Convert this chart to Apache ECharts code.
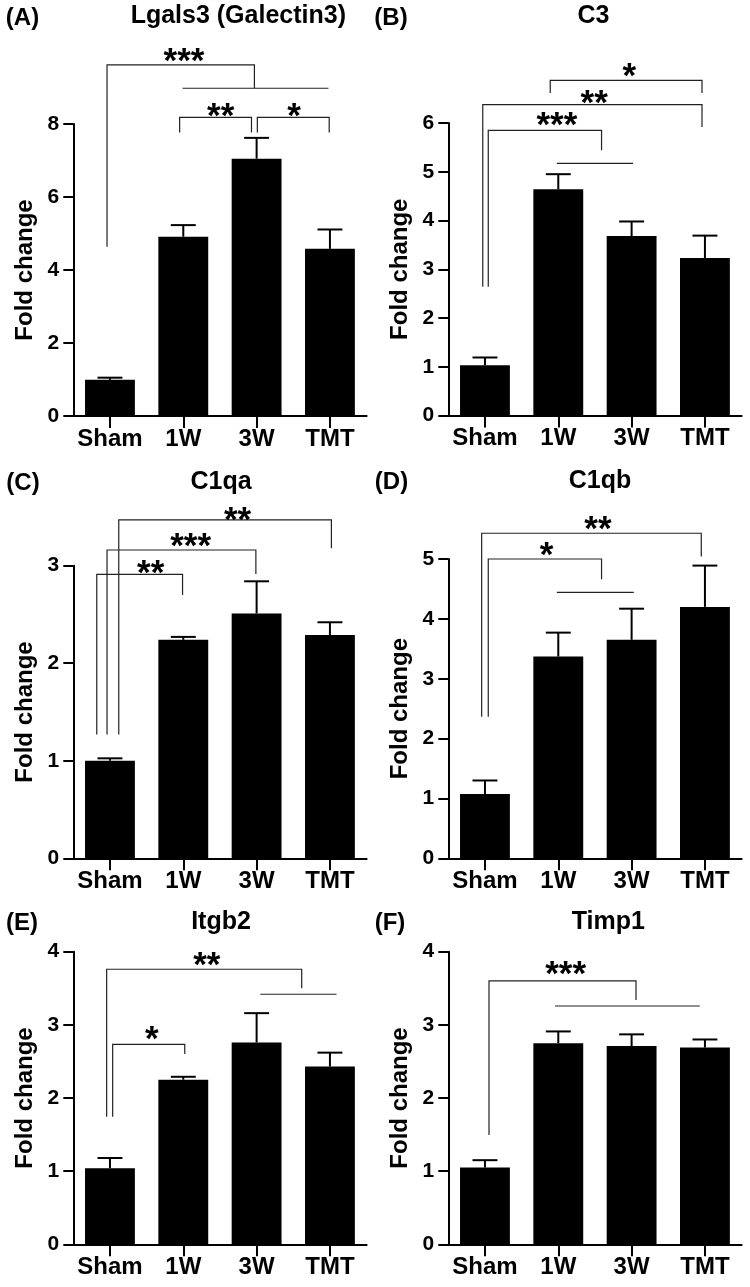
<!DOCTYPE html>
<html><head><meta charset="utf-8">
<script src="https://cdn.jsdelivr.net/npm/echarts@6/dist/echarts.min.js"></script>
<style>html,body{margin:0;padding:0;background:#fff}#c{width:750px;height:1287px}</style>
</head><body><div id="c"></div>
<script>
// ---------- data ----------
const categories = ['Sham', '1W', '3W', 'TMT'];
const panelLetters = ['(A)', '(B)', '(C)', '(D)', '(E)', '(F)'];
const panelTitles = ['Lgals3 (Galectin3)', 'C3', 'C1qa', 'C1qb', 'Itgb2', 'Timp1'];
const yAxisName = 'Fold change';
const yMax = [8, 6, 3, 5, 4, 4];
const yStep = [2, 1, 1, 1, 1, 1];

const meanA = [0.99, 4.91, 7.05, 4.58];  const semA = [0.06, 0.32, 0.57, 0.53];
const meanB = [1.03, 4.64, 3.68, 3.23];  const semB = [0.16, 0.31, 0.30, 0.46];
const meanC = [1.00, 2.24, 2.51, 2.29];  const semC = [0.025, 0.03, 0.33, 0.13];
const meanD = [1.075, 3.37, 3.65, 4.20]; const semD = [0.225, 0.40, 0.52, 0.69];
const meanE = [1.04, 2.25, 2.76, 2.43];  const semE = [0.14, 0.04, 0.40, 0.19];
const meanF = [1.05, 2.75, 2.71, 2.69];  const semF = [0.10, 0.16, 0.16, 0.11];

// significance brackets: [x1, x2, yTop, yLeftEnd, yRightEnd] (category index, value units)
const bracketA = [[-0.04, 1.97, 9.62, 4.64, 8.98], [0.95, 1.93, 8.18, 7.77, 7.77], [2.01, 2.99, 8.18, 7.77, 7.77]];
const groupLineA = [[0.99, 2.98, 8.98]];
const starsA = [['***', 1.01, 9.87], ['**', 1.51, 8.38], ['*', 2.51, 8.38]];

const bracketB = [[0.89, 2.96, 6.875, 6.615, 6.615], [-0.03, 2.96, 6.377, 2.64, 5.918], [0.045, 1.59, 5.85, 2.64, 5.44]];
const groupLineB = [[0.98, 2.02, 5.17]];
const starsB = [['*', 1.97, 7.07], ['**', 1.49, 6.53], ['***', 0.98, 6.08]];

const bracketC = [[0.12, 3.02, 3.469, 1.27, 3.178], [-0.04, 1.99, 3.161, 1.27, 2.915], [-0.18, 0.99, 2.912, 1.27, 2.70]];
const groupLineC = [];
const starsC = [['**', 1.74, 3.53], ['***', 1.10, 3.26], ['**', 0.555, 2.98]];

const bracketD = [[-0.045, 2.95, 5.43, 2.365, 5.04], [0.045, 1.59, 5.0, 2.365, 4.66]];
const groupLineD = [[0.98, 2.03, 4.444]];
const starsD = [['**', 1.54, 5.60], ['*', 0.84, 5.16]];

const bracketE = [[-0.045, 2.615, 3.76, 1.744, 3.50], [0.037, 1.02, 2.734, 1.744, 2.60]];
const groupLineE = [[2.05, 3.09, 3.418]];
const starsE = [['**', 1.32, 3.90], ['*', 0.57, 2.88]];

const bracketF = [[0.055, 2.06, 3.60, 1.494, 3.34]];
const groupLineF = [[0.955, 2.93, 3.258]];
const starsF = [['***', 1.10, 3.77]];

const means = [meanA, meanB, meanC, meanD, meanE, meanF];
const sems = [semA, semB, semC, semD, semE, semF];
const brackets = [bracketA, bracketB, bracketC, bracketD, bracketE, bracketF];
const groupLines = [groupLineA, groupLineB, groupLineC, groupLineD, groupLineE, groupLineF];
const stars = [starsA, starsB, starsC, starsD, starsE, starsF];

// ---------- layout ----------
const FONT = '"Liberation Sans", Arial, sans-serif';
const grids = [
  {left: 73.3, top: 124, width: 293.3, height: 292},
  {left: 448.3, top: 123, width: 293.3, height: 292.5},
  {left: 73.3, top: 565.7, width: 293.3, height: 292.6},
  {left: 448.3, top: 559, width: 293.3, height: 299.3},
  {left: 73.3, top: 951.7, width: 293.3, height: 292.6},
  {left: 448.3, top: 951.7, width: 293.3, height: 292.6}
];
const letterPos = [[22.5, 18], [391, 18], [23, 483], [391.5, 482], [22, 923], [390, 923]];
const titlePos = [[238.3, 16], [593.5, 16], [221, 482], [600, 481], [221, 922.5], [608.3, 922.5]];

const xAxes = [], yAxes = [], series = [], graphics = [];
for (let i = 0; i < 6; i++) {
  xAxes.push({
    type: 'category', gridIndex: i, data: categories,
    axisLine: {lineStyle: {color: '#000', width: 2}},
    axisTick: {show: true, length: 12, alignWithLabel: true, lineStyle: {color: '#000', width: 2}},
    axisLabel: {color: '#000', fontSize: 24, fontWeight: 'bold', fontFamily: FONT, margin: 11, interval: 0},
    splitLine: {show: false}
  });
  yAxes.push({
    type: 'value', gridIndex: i, min: 0, max: yMax[i], interval: yStep[i],
    axisLine: {show: true, lineStyle: {color: '#000', width: 2}},
    axisTick: {show: true, length: 10, lineStyle: {color: '#000', width: 2}},
    axisLabel: {color: '#000', fontSize: 21, fontWeight: 'bold', fontFamily: FONT, margin: 14},
    splitLine: {show: false},
    name: yAxisName, nameLocation: 'middle', nameGap: 36, nameRotate: 90,
    nameTextStyle: {color: '#000', fontSize: 24, fontWeight: 'bold', fontFamily: FONT}
  });
  series.push({
    type: 'bar', xAxisIndex: i, yAxisIndex: i, data: means[i], barWidth: '68%',
    itemStyle: {color: '#000'}, silent: true, z: 2
  });
  const sem = sems[i], mean = means[i];
  series.push({
    type: 'custom', xAxisIndex: i, yAxisIndex: i, clip: false, silent: true, z: 3,
    data: mean.map((m, k) => [k, m, m + sem[k]]),
    renderItem: function (params, api) {
      const base = api.coord([api.value(0), api.value(1)]);
      const top = api.coord([api.value(0), api.value(2)]);
      const hw = api.size([1, 0])[0] * 0.17;
      return {type: 'group', children: [
        {type: 'line', shape: {x1: base[0], y1: base[1], x2: top[0], y2: top[1]}, style: {stroke: '#000', lineWidth: 2}},
        {type: 'line', shape: {x1: top[0] - hw, y1: top[1], x2: top[0] + hw, y2: top[1]}, style: {stroke: '#000', lineWidth: 2}}
      ]};
    }
  });
  const br = brackets[i];
  series.push({
    type: 'custom', xAxisIndex: i, yAxisIndex: i, clip: false, silent: true, z: 4,
    data: br,
    renderItem: function (params, api) {
      const band = api.size([1, 0])[0];
      const o = api.coord([0, 0])[0];
      const X1 = o + api.value(0) * band, X2 = o + api.value(1) * band;
      const yT = api.coord([0, api.value(2)])[1];
      const yL = api.coord([0, api.value(3)])[1];
      const yR = api.coord([0, api.value(4)])[1];
      return {type: 'polyline', shape: {points: [[X1, yL], [X1, yT], [X2, yT], [X2, yR]]},
        style: {stroke: '#222', lineWidth: 1.2, fill: null}};
    }
  });
  const gl = groupLines[i];
  if (gl.length) series.push({
    type: 'custom', xAxisIndex: i, yAxisIndex: i, clip: false, silent: true, z: 4,
    data: gl,
    renderItem: function (params, api) {
      const band = api.size([1, 0])[0];
      const o = api.coord([0, 0])[0];
      const y = api.coord([0, api.value(2)])[1];
      return {type: 'line', shape: {x1: o + api.value(0) * band, y1: y, x2: o + api.value(1) * band, y2: y},
        style: {stroke: '#222', lineWidth: 1.2}};
    }
  });
  const st = stars[i];
  series.push({
    type: 'custom', xAxisIndex: i, yAxisIndex: i, clip: false, silent: true, z: 5,
    data: st.map(s => [s[1], s[2]]),
    renderItem: function (params, api) {
      const band = api.size([1, 0])[0];
      const o = api.coord([0, 0])[0];
      const y = api.coord([0, api.value(1)])[1];
      return {type: 'text', style: {text: st[params.dataIndex][0], x: o + api.value(0) * band, y: y + 7,
        align: 'center', verticalAlign: 'middle', fill: '#000', font: 'bold 35px ' + FONT}};
    }
  });
  graphics.push({type: 'text', x: letterPos[i][0], y: letterPos[i][1],
    style: {text: panelLetters[i], align: 'center', verticalAlign: 'middle', fill: '#000', font: 'bold 24px ' + FONT}});
  graphics.push({type: 'text', x: titlePos[i][0], y: titlePos[i][1],
    style: {text: panelTitles[i], align: 'center', verticalAlign: 'middle', fill: '#000', font: 'bold 25px ' + FONT}});
}

const chart = echarts.init(document.getElementById('c'), null, {renderer: 'canvas'});
chart.setOption({
  backgroundColor: '#fff', animation: false,
  grid: grids, xAxis: xAxes, yAxis: yAxes, series: series, graphic: graphics
});
</script></body></html>
